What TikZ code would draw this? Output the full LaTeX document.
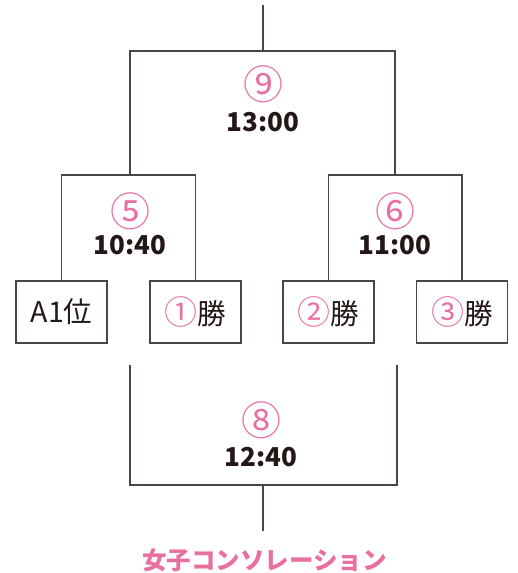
\documentclass[tikz,border=0pt]{standalone}
\usepackage{fontspec}
\setmainfont{Noto Sans CJK JP}
\definecolor{ln}{HTML}{4D4544}
\definecolor{pk}{HTML}{E8709F}
\definecolor{tx}{HTML}{231815}
\newcommand{\cnum}[1]{\textcolor{pk}{\fontsize{33}{33}\selectfont #1}}
\newcommand{\lowr}[1]{\raisebox{-2pt}{#1}}
\begin{document}
\begin{tikzpicture}[x=1pt,y=-1pt,
  line/.style={draw=ln,line width=1.7pt},
  team/.style={draw=ln,line width=1.7pt,minimum width=91pt,minimum height=62pt,inner sep=0pt,font=\fontsize{28.5}{28.5}\selectfont,text=tx},
  num/.style={text=pk,font=\fontsize{40}{40}\selectfont,inner sep=0pt},
  time/.style={text=tx,font=\bfseries\fontsize{26}{26}\selectfont,inner sep=0pt},
  title/.style={text=pk,font=\bfseries\fontsize{24.5}{24.5}\selectfont,inner sep=0pt}]
\useasboundingbox (0,0) rectangle (517,573);
% team boxes
\node[team] (a1) at (61.5,312) {\lowr{A1位}};
\node[team] (w1) at (195.5,312) {\lowr{\cnum{①}勝}};
\node[team] (w2) at (328.5,312) {\lowr{\cnum{②}勝}};
\node[team] (w3) at (462,312) {\lowr{\cnum{③}勝}};
% match labels
\node[num] (n9) at (263,84) {⑨};
\node[time] (t9) at (263,122) {13:00};
\node[num] (n5) at (130,211) {⑤};
\node[time] (t5) at (130,245) {10:40};
\node[num] (n6) at (395,211) {⑥};
\node[time] (t6) at (395,245) {11:00};
\node[num] (n8) at (261,420) {⑧};
\node[time] (t8) at (261,457) {12:40};
% junctions
\coordinate (top) at (263,5);
\coordinate (j9) at (263,51);
\coordinate (j5) at (130,175);
\coordinate (j6) at (395,175);
\coordinate (b8l) at (130,365);
\coordinate (b8r) at (397,365);
\coordinate (j8) at (263,485);
\coordinate (bot) at (263,531);
% connectors
\draw[line] (top) -- (j9);
\draw[line] (j5) |- (j9) -| (j6);
\draw[line] (a1.north) |- (j5) -| (w1.north);
\draw[line] (w2.north) |- (j6) -| (w3.north);
\draw[line] (b8l) |- (j8) -| (b8r);
\draw[line] (j8) -- (bot);
% title
\node[title] (ttl) at (264.5,560) {女子コンソレーション};
\end{tikzpicture}
\end{document}
